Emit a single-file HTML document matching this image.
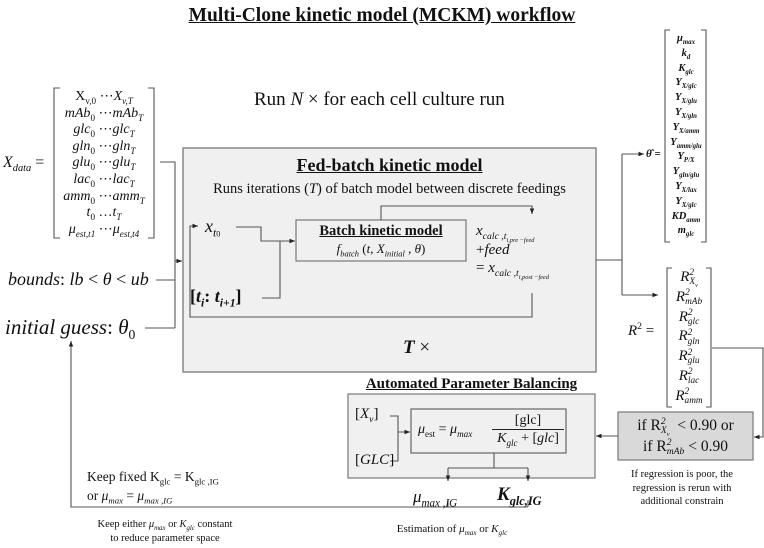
<!DOCTYPE html>
<html><head><meta charset="utf-8"><style>
body{margin:0;background:#fff;width:764px;height:548px;position:relative;overflow:hidden;font-family:"Liberation Serif",serif;color:#111}
.a{position:absolute;white-space:nowrap;line-height:1}
i{font-style:italic}
.c{text-align:center}
sub,sup{font-size:65%;line-height:0}
.ss{display:inline-block;vertical-align:-0.35em;font-size:62%;line-height:0.95;text-align:left}
</style></head><body>
<svg width="764" height="548" style="position:absolute;left:0;top:0">
<defs><marker id="m" markerWidth="6" markerHeight="6" refX="5" refY="3" orient="auto"><path d="M0,1 L5,3 L0,5z" fill="#222"/></marker></defs>
<rect x="183" y="148" width="413" height="224" fill="#f0f0f0" stroke="#777" stroke-width="1.3"/>
<rect x="296" y="220" width="170" height="41" fill="#f0f0f0" stroke="#777" stroke-width="1.2"/>
<rect x="348" y="394" width="247" height="84" fill="#f0f0f0" stroke="#777" stroke-width="1.2"/>
<rect x="411" y="409" width="155" height="44" fill="#f0f0f0" stroke="#666" stroke-width="1.2"/>
<rect x="618" y="412" width="135" height="48" fill="#d9d9d9" stroke="#777" stroke-width="1.2"/>
<g fill="none" stroke="#555" stroke-width="1.1">
<path d="M60,88 h-6 v150 h6 M148,88 h6 v150 h-6"/>
<path d="M160,162 h15 v166 M145,328 h30 M156,280 h19"/>
<path d="M175,261 h7" marker-end="url(#m)"/>
<path d="M532,293 v24 h-342 v-91 h8" marker-end="url(#m)"/>
<path d="M236,227 h25 v14 h34" marker-end="url(#m)"/>
<path d="M262,298 h18 v-57"/>
<path d="M381,220 v-14 h151 v8" marker-end="url(#m)"/>
<path d="M596,260 h26 M622,154 v141"/>
<path d="M622,154 h22" marker-end="url(#m)"/>
<path d="M622,295 h36" marker-end="url(#m)"/>
<path d="M670,30 h-5 v212 h5 M701,30 h5 v212 h-5"/>
<path d="M672,268 h-5 v139 h5 M706,268 h5 v139 h-5"/>
<path d="M712,348 h51 v89 h-9" marker-end="url(#m)"/>
<path d="M618,436 h-22" marker-end="url(#m)"/>
<path d="M390,416 h8 v45 h-8 M398,432 h12" marker-end="url(#m)"/>
<path d="M494,453 v15 M448,468 h80"/>
<path d="M448,468 v13" marker-end="url(#m)"/>
<path d="M528,468 v13" marker-end="url(#m)"/>
<path d="M448,500 v7 M528,500 v7 M528,507 h-457 v-166" marker-end="url(#m)"/>
</g>
</svg>
<div class="a" style="left:0;width:764px;top:6px;text-align:center;font-size:19.5px;font-weight:bold;text-decoration:underline">Multi-Clone kinetic model (MCKM) workflow</div>
<div class="a" style="left:254px;top:90px;font-size:19px">Run <i>N</i> × for each cell culture run</div>
<div class="a" style="left:3px;top:155px;font-size:16px"><i>X<sub>data</sub></i> =</div>
<div class="a c" style="left:56px;width:96px;top:89px;font-size:14px;line-height:16.6px">X<sub>v,0</sub> ⋯<i>X<sub>v,T</sub></i><br><i>mAb</i><sub>0</sub> ⋯<i>mAb<sub>T</sub></i><br><i>glc</i><sub>0</sub> ⋯<i>glc<sub>T</sub></i><br><i>gln</i><sub>0</sub> ⋯<i>gln<sub>T</sub></i><br><i>glu</i><sub>0</sub> ⋯<i>glu<sub>T</sub></i><br><i>lac</i><sub>0</sub> ⋯<i>lac<sub>T</sub></i><br><i>amm</i><sub>0</sub> ⋯<i>amm<sub>T</sub></i><br><i>t</i><sub>0</sub> …<i>t<sub>T</sub></i><br><i>μ<sub>est,t1</sub></i> ⋯<i>μ<sub>est,t4</sub></i></div>
<div class="a" style="left:8px;top:270px;font-size:18px"><i>bounds</i>: <i>lb</i> &lt; <i>θ</i> &lt; <i>ub</i></div>
<div class="a" style="left:5px;top:317px;font-size:21px"><i>initial guess</i>: <i>θ</i><sub>0</sub></div>
<div class="a c" style="left:183px;width:413px;top:156px;font-size:18px;font-weight:bold;text-decoration:underline">Fed-batch kinetic model</div>
<div class="a c" style="left:183px;width:413px;top:182px;font-size:14.5px">Runs iterations (<i>T</i>) of batch model between discrete feedings</div>
<div class="a" style="left:205px;top:217px;font-size:18px"><i>x<sub>t</sub></i><sub style="font-size:45%">0</sub></div>
<div class="a" style="left:190px;top:287px;font-size:18px;font-weight:bold">[<i>t<sub>i</sub></i>: <i>t<sub>i+1</sub></i>]</div>
<div class="a c" style="left:296px;width:170px;top:224px;font-size:14.5px;font-weight:bold;text-decoration:underline">Batch kinetic model</div>
<div class="a c" style="left:296px;width:170px;top:242px;font-size:13px"><i>f<sub>batch</sub></i> (<i>t</i>, <i>X<sub>initial</sub></i> , <i>θ</i>)</div>
<div class="a" style="left:476px;top:224px;font-size:15px"><i>x<sub>calc ,t<sub>i,pre −feed</sub></sub></i></div>
<div class="a" style="left:476px;top:243px;font-size:15px">+<i>feed</i></div>
<div class="a" style="left:476px;top:261px;font-size:15px">= <i>x<sub>calc ,t<sub>i,post −feed</sub></sub></i></div>
<div class="a" style="left:403px;top:338px;font-size:19px"><b><i>T</i></b> ×</div>
<div class="a" style="left:646px;top:149px;font-size:11px;font-weight:bold"><i>θ̂</i> =</div>
<div class="a c" style="left:664px;width:44px;top:32px;font-size:10.5px;font-weight:bold;font-style:italic;line-height:14.8px">μ<sub>max</sub><br>k<sub>d</sub><br>K<sub>glc</sub><br>Y<sub>X/glc</sub><br>Y<sub>X/glu</sub><br>Y<sub>X/gln</sub><br>Y<sub>X/amm</sub><br>Y<sub>amm/glu</sub><br>Y<sub>P/X</sub><br>Y<sub>gln/glu</sub><br>Y<sub>X/lax</sub><br>Y<sub>X/glc</sub><br>KD<sub>amm</sub><br>m<sub>glc</sub></div>
<div class="a" style="left:628px;top:324px;font-size:15px"><i>R</i><sup>2</sup> =</div>
<div class="a c" style="left:667px;width:44px;top:268px;font-size:15px;font-style:italic;line-height:19.8px">
<div>R<span class="ss">2<br>X<sub>v</sub></span></div><div>R<span class="ss">2<br>mAb</span></div><div>R<span class="ss">2<br>glc</span></div><div>R<span class="ss">2<br>gln</span></div><div>R<span class="ss">2<br>glu</span></div><div>R<span class="ss">2<br>lac</span></div><div>R<span class="ss">2<br>amm</span></div></div>
<div class="a c" style="left:618px;width:135px;top:415px;font-size:15.5px;line-height:21px"><div>if R<span class="ss" style="font-style:italic">2<br>X<sub>v</sub></span> &nbsp;&lt; 0.90 or</div><div>if R<span class="ss" style="font-style:italic">2<br>mAb</span> &lt; 0.90</div></div>
<div class="a c" style="left:600px;width:164px;top:468px;font-size:10.5px;line-height:13.5px">If regression is poor, the<br>regression is rerun with<br>additional constrain</div>
<div class="a c" style="left:348px;width:247px;top:377px;font-size:15px;font-weight:bold;text-decoration:underline">Automated Parameter Balancing</div>
<div class="a" style="left:355px;top:407px;font-size:15px">[<i>X<sub>v</sub></i>]</div>
<div class="a" style="left:355px;top:453px;font-size:15px">[<i>GLC</i>]</div>
<div class="a" style="left:418px;top:423px;font-size:14px"><i>μ</i><sub>est</sub> = <i>μ<sub>max</sub></i></div>
<div class="a c" style="left:492px;width:72px;top:412px;font-size:14px;line-height:17px"><span style="display:inline-block;border-bottom:1px solid #222;width:72px">[glc]</span><br><i>K<sub>glc</sub></i> + [<i>glc</i>]</div>
<div class="a" style="left:413px;top:488px;font-size:17px"><i>μ<sub>max ,IG</sub></i></div>
<div class="a" style="left:497px;top:485px;font-size:19px;font-weight:bold"><i>K<sub>glc,IG</sub></i></div>
<div class="a c" style="left:352px;width:200px;top:524px;font-size:11px">Estimation of <i>μ<sub>max</sub></i> or <i>K<sub>glc</sub></i></div>
<div class="a" style="left:87px;top:470px;font-size:13.5px">Keep fixed K<sub>glc</sub> = K<sub>glc ,IG</sub></div>
<div class="a" style="left:87px;top:489px;font-size:13.5px">or <i>μ<sub>max</sub></i> = <i>μ<sub>max ,IG</sub></i></div>
<div class="a c" style="left:60px;width:210px;top:518px;font-size:10.5px;line-height:14px">Keep either <i>μ<sub>max</sub></i> or <i>K<sub>glc</sub></i> constant<br>to reduce parameter space</div>
</body></html>
